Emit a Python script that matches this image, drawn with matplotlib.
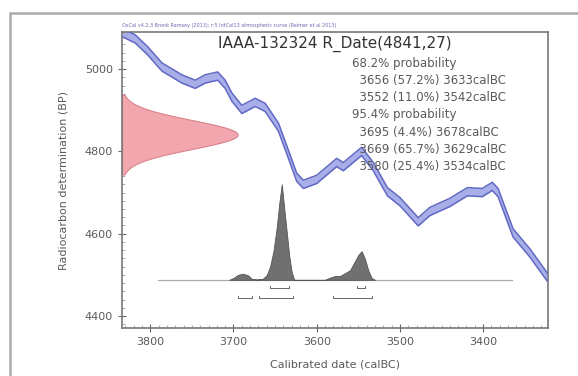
import numpy as np
import matplotlib.pyplot as plt
from matplotlib.patches import Rectangle

# calibration curve (calBC, BP)
cal_years = [3834, 3830, 3818, 3803, 3786, 3762, 3746, 3734, 3719, 3710, 3702,
             3690, 3674, 3662, 3646, 3634, 3624, 3616, 3600, 3576, 3568, 3546,
             3532, 3515, 3500, 3478, 3464, 3440, 3419, 3401, 3389, 3382, 3364,
             3344, 3323]
cal_bp = [5088, 5085, 5073, 5044, 5005, 4976, 4963, 4976, 4983, 4963, 4932,
          4902, 4919, 4907, 4859, 4793, 4737, 4720, 4732, 4773, 4763, 4800,
          4763, 4702, 4678, 4629, 4654, 4676, 4702, 4700, 4715, 4700, 4602,
          4554, 4495]
cal_err = 10

# radiocarbon date
r_date = 4841
r_sigma = 27

# calibrated probability (calBC, relative)
post_years = [3705, 3700, 3695, 3689, 3683, 3678, 3672, 3665, 3660, 3656, 3652,
              3648, 3645, 3642, 3639, 3636, 3633, 3630, 3627, 3590, 3585, 3578,
              3572, 3566, 3560, 3555, 3550, 3546, 3542, 3538, 3534, 3530]
post_prob = [0, 0.02, 0.05, 0.065, 0.05, 0.01, 0.005, 0.01, 0.05, 0.14, 0.30,
             0.55, 0.80, 1.0, 0.75, 0.50, 0.25, 0.08, 0, 0, 0.02, 0.04,
             0.04, 0.07, 0.10, 0.18, 0.26, 0.30, 0.22, 0.10, 0.02, 0]

ranges_68 = [(3656, 3633), (3552, 3542)]
ranges_95 = [(3695, 3678), (3669, 3629), (3580, 3534)]

title = "IAAA-132324 R_Date(4841,27)"
header = "OxCal v4.2.3 Bronk Ramsey (2013); r:5 IntCal13 atmospheric curve (Reimer et al 2013)"
summary = ["68.2% probability",
           "  3656 (57.2%) 3633calBC",
           "  3552 (11.0%) 3542calBC",
           "95.4% probability",
           "  3695 (4.4%) 3678calBC",
           "  3669 (65.7%) 3629calBC",
           "  3580 (25.4%) 3534calBC"]

txt = "#5a5a5a"
fig = plt.figure(figsize=(5.78, 3.76), dpi=100)
ax = fig.add_axes([122 / 578, 1 - 328 / 376, 426 / 578, 296 / 376])

# figure frame
fig.patches.append(Rectangle((10 / 578, -0.05), 1.0, 1 - 13 / 376 + 0.05,
                             transform=fig.transFigure, fill=False,
                             ec="#aaaaaa", lw=1.8))

# calibration curve band
cy = np.array(cal_bp)
ax.fill_between(cal_years, cy - cal_err, cy + cal_err, color="#a7aee8", lw=0, zorder=2)
ax.plot(cal_years, cy - cal_err, color="#6269c4", lw=1.1, zorder=3)
ax.plot(cal_years, cy + cal_err, color="#6269c4", lw=1.1, zorder=3)

# radiocarbon normal (drawn a bit wider to match the OxCal look)
xlim = (3834, 3322)
bp = np.linspace(r_date - 3.6 * r_sigma, r_date + 3.6 * r_sigma, 200)
dens = np.exp(-0.5 * ((bp - r_date) / (1.3 * r_sigma)) ** 2)
width = 139
ax.fill_betweenx(bp, xlim[0], xlim[0] - dens * width, color="#f2a6ad",
                 edgecolor="#d9828a", lw=0.8, zorder=2)

# calibrated distribution
base = 4488
height = 232
py = base + np.array(post_prob) * height
ax.plot([3791, 3365], [base, base], color="#aaaaaa", lw=0.9, zorder=2)
ax.fill_between(post_years, base, py, color="#707070", lw=0.6, edgecolor="#555555", zorder=3)

# ranges
def bracket(y, spans):
    for a, b in spans:
        ax.plot([a, a, b, b], [y + 4, y, y, y + 4], color="#666666", lw=0.7)

bracket(4468, ranges_68)
bracket(4444, ranges_95)

ax.set_xlim(*xlim)
ax.set_ylim(4371, 5090)
ax.set_xticks([3800, 3700, 3600, 3500, 3400])
ax.set_yticks([4400, 4600, 4800, 5000])
ax.set_xticks(np.arange(3830, 3322, -10), minor=True)
ax.set_yticks(np.arange(4380, 5090, 20), minor=True)
ax.tick_params(which="major", direction="inout", length=6, width=0.8,
               colors="#666666", labelcolor=txt, labelsize=8)
ax.tick_params(which="minor", direction="in", length=2, width=0.5, colors="#888888")
for s in ax.spines.values():
    s.set_color("#777777")
    s.set_linewidth(1.2)

ax.set_xlabel("Calibrated date (calBC)", color=txt, fontsize=8, labelpad=9)
ax.set_ylabel("Radiocarbon determination (BP)", color=txt, fontsize=8, labelpad=12)

fig.text(122 / 578, 1 - 25 / 376, header, fontsize=3.5, color="#6b6bb0", va="center")
ax.text(0.5, 0.96, title, transform=ax.transAxes, ha="center", va="center",
        fontsize=11, color="#333333")

for i, line in enumerate(summary):
    fig.text(352 / 578, 1 - (63 + i * 17.3) / 376, line, ha="left", va="center",
             fontsize=8.5, color="#5a5a5a")

fig.savefig("out.png", dpi=100)
